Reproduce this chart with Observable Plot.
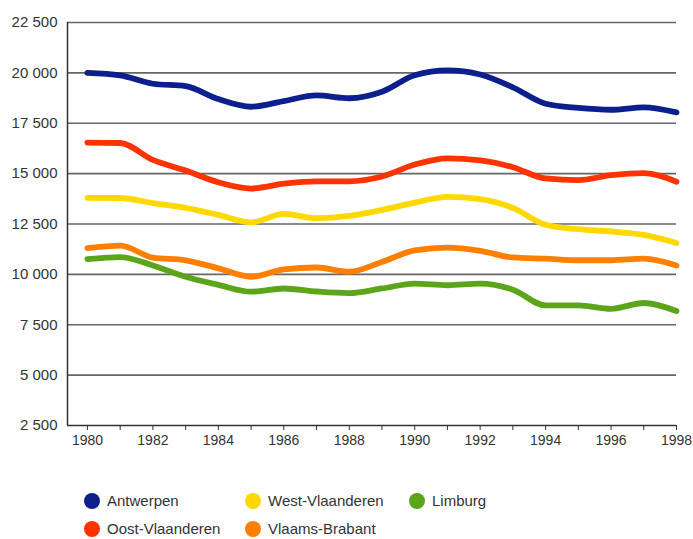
<!DOCTYPE html>
<html>
<head>
<meta charset="utf-8">
<script src="https://cdn.jsdelivr.net/npm/d3@7"></script>
<script src="https://cdn.jsdelivr.net/npm/@observablehq/plot@0.6"></script>
<style>
  html, body { margin: 0; padding: 0; background: #fff; }
  #wrap { position: relative; width: 693px; height: 539px; font-family: "Liberation Sans", Arial, sans-serif; overflow: hidden; }
  #legend { position: absolute; left: 0; top: 0; width: 693px; height: 539px; pointer-events: none; }
  .item { position: absolute; display: flex; align-items: center; height: 16px; line-height: 16px; font-size: 15px; color: #333; white-space: nowrap; }
  .dot { width: 16px; height: 16px; border-radius: 50%; margin-right: 7px; }
</style>
</head>
<body>
<div id="wrap"><div id="chart"></div><div id="legend"></div></div>
<script>
const years = [1980,1981,1982,1983,1984,1985,1986,1987,1988,1989,1990,1991,1992,1993,1994,1995,1996,1997,1998];
const seriesNames = ["Antwerpen","Oost-Vlaanderen","West-Vlaanderen","Vlaams-Brabant","Limburg"];
const seriesColors = ["#0d1f8c","#ff3300","#ffd800","#ff8000","#5aa51a"];
const antwerpen      = [20000,19880,19460,19340,18700,18320,18600,18880,18740,19060,19880,20120,19920,19280,18470,18260,18170,18290,18040];
const oostVlaanderen = [16540,16520,15680,15150,14570,14260,14500,14620,14620,14860,15450,15760,15660,15320,14760,14680,14920,15020,14600];
const westVlaanderen = [13800,13790,13540,13300,12950,12580,13000,12790,12900,13200,13560,13850,13740,13300,12460,12240,12130,11960,11560];
const vlaamsBrabant  = [11300,11430,10830,10700,10300,9880,10250,10340,10130,10620,11190,11330,11170,10840,10780,10700,10700,10780,10440];
const limburg        = [10760,10860,10440,9880,9480,9140,9300,9150,9070,9300,9540,9460,9540,9240,8460,8460,8290,8580,8180];
const yTicks = [2500,5000,7500,10000,12500,15000,17500,20000,22500];
const gridValues = [5000,7500,10000,12500,15000,17500,20000,22500];

const allSeries = [antwerpen, oostVlaanderen, westVlaanderen, vlaamsBrabant, limburg];
const data = [];
allSeries.forEach((vals, i) => vals.forEach((v, j) => data.push({series: seriesNames[i], year: years[j], value: v})));

const xMin = 1979.39;
const fmtY = d => d3.format(",")(d).replace(",", " ");

const chart = Plot.plot({
  width: 693,
  height: 465,
  marginLeft: 67,
  marginRight: 17,
  marginTop: 22,
  marginBottom: 40,
  style: {fontFamily: "'Liberation Sans', Arial, sans-serif", fontSize: "14px", color: "#333", background: "#fff"},
  x: {domain: [xMin, 1998]},
  y: {domain: [2500, 22500]},
  color: {domain: seriesNames, range: seriesColors},
  marks: [
    Plot.ruleY(gridValues, {stroke: "#666", strokeWidth: 1.6}),
    Plot.axisY({ticks: yTicks, tickSize: 0, tickPadding: 10, tickFormat: fmtY, label: null, fontSize: 15, fill: "#333"}),
    Plot.axisX({ticks: years, tickSize: 5, tickPadding: 5, tickFormat: d => d % 2 === 0 ? String(d) : "", label: null, fontSize: 14, fill: "#333", stroke: "#333"}),
    Plot.ruleX([xMin], {stroke: "#333", strokeWidth: 1.5}),
    Plot.ruleY([2500], {stroke: "#333", strokeWidth: 1.5}),
    Plot.line(data, {x: "year", y: "value", z: "series", stroke: "series", strokeWidth: 5.8, curve: "monotone-x", strokeLinecap: "round", strokeLinejoin: "round"})
  ]
});
document.getElementById("chart").appendChild(chart);

const legendItems = [
  {name: "Antwerpen", left: 84, top: 493},
  {name: "West-Vlaanderen", left: 245, top: 493},
  {name: "Limburg", left: 409, top: 493},
  {name: "Oost-Vlaanderen", left: 84, top: 521},
  {name: "Vlaams-Brabant", left: 245, top: 521}
];
const legend = d3.select("#legend");
legendItems.forEach(it => {
  const c = seriesColors[seriesNames.indexOf(it.name)];
  const div = legend.append("div").attr("class", "item").style("left", it.left + "px").style("top", it.top + "px");
  div.append("div").attr("class", "dot").style("background", c);
  div.append("span").text(it.name);
});
</script>
</body>
</html>
